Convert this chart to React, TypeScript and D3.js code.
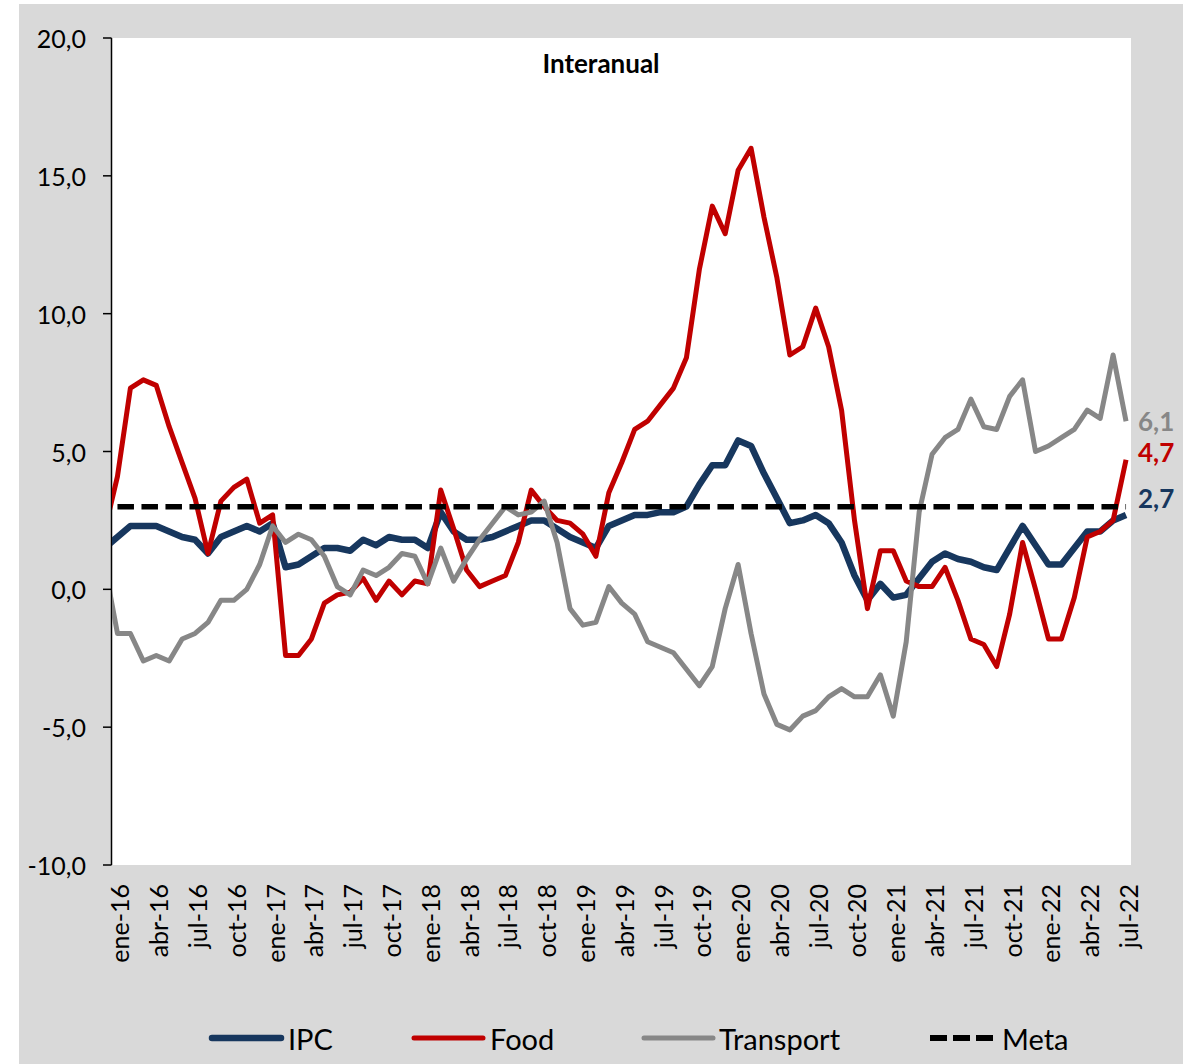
import React from "react";
import * as d3 from "d3";

// Months: first value is dic-15 (drawn but clipped at the axis), then ene-16 .. jul-22
const ipc = [1.5, 1.9, 2.3, 2.3, 2.3, 2.1, 1.9, 1.8, 1.3, 1.9, 2.1, 2.3, 2.1, 2.4, 0.8, 0.9, 1.2, 1.5, 1.5, 1.4, 1.8, 1.6, 1.9, 1.8, 1.8, 1.5, 2.8, 2.1, 1.8, 1.8, 1.9, 2.1, 2.3, 2.5, 2.5, 2.2, 1.9, 1.7, 1.5, 2.3, 2.5, 2.7, 2.7, 2.8, 2.8, 3.0, 3.8, 4.5, 4.5, 5.4, 5.2, 4.2, 3.3, 2.4, 2.5, 2.7, 2.4, 1.7, 0.5, -0.4, 0.2, -0.3, -0.2, 0.4, 1.0, 1.3, 1.1, 1.0, 0.8, 0.7, 1.5, 2.3, 1.6, 0.9, 0.9, 1.5, 2.1, 2.1, 2.5, 2.7];
const food = [2.1, 4.1, 7.3, 7.6, 7.4, 5.9, 4.6, 3.3, 1.3, 3.2, 3.7, 4.0, 2.4, 2.7, -2.4, -2.4, -1.8, -0.5, -0.2, -0.1, 0.4, -0.4, 0.3, -0.2, 0.3, 0.2, 3.6, 2.2, 0.7, 0.1, 0.3, 0.5, 1.7, 3.6, 3.0, 2.5, 2.4, 2.0, 1.2, 3.5, 4.6, 5.8, 6.1, 6.7, 7.3, 8.4, 11.6, 13.9, 12.9, 15.2, 16.0, 13.5, 11.3, 8.5, 8.8, 10.2, 8.8, 6.5, 2.5, -0.7, 1.4, 1.4, 0.3, 0.1, 0.1, 0.8, -0.4, -1.8, -2.0, -2.8, -0.9, 1.7, 0.0, -1.8, -1.8, -0.3, 1.9, 2.1, 2.5, 4.7];
const transport = [0.9, -1.6, -1.6, -2.6, -2.4, -2.6, -1.8, -1.6, -1.2, -0.4, -0.4, 0.0, 0.9, 2.3, 1.7, 2.0, 1.8, 1.2, 0.1, -0.2, 0.7, 0.5, 0.8, 1.3, 1.2, 0.2, 1.5, 0.3, 1.1, 1.8, 2.4, 3.0, 2.7, 2.8, 3.2, 1.7, -0.7, -1.3, -1.2, 0.1, -0.5, -0.9, -1.9, -2.1, -2.3, -2.9, -3.5, -2.8, -0.7, 0.9, -1.6, -3.8, -4.9, -5.1, -4.6, -4.4, -3.9, -3.6, -3.9, -3.9, -3.1, -4.6, -1.9, 2.8, 4.9, 5.5, 5.8, 6.9, 5.9, 5.8, 7.0, 7.6, 5.0, 5.2, 5.5, 5.8, 6.5, 6.2, 8.5, 6.1];
const metaValue = 3.0;

const tickLabels = ["ene-16", "abr-16", "jul-16", "oct-16", "ene-17", "abr-17", "jul-17", "oct-17", "ene-18", "abr-18", "jul-18", "oct-18", "ene-19", "abr-19", "jul-19", "oct-19", "ene-20", "abr-20", "jul-20", "oct-20", "ene-21", "abr-21", "jul-21", "oct-21", "ene-22", "abr-22", "jul-22"];
const yTicks = [-10, -5, 0, 5, 10, 15, 20];

const COLORS = { IPC: "#17375e", Food: "#c00000", Transport: "#878787", Meta: "#000000" };
const FONT = "Lato, 'Open Sans', sans-serif";

export default function App() {
  const W = 1191, H = 1064;
  const plot = { left: 111, right: 1131, top: 38, bottom: 865 };
  const nMonths = ipc.length - 1; // months from ene-16
  const x = d3.scaleLinear().domain([-0.5, nMonths - 0.5]).range([111, 1132.5]);
  const y = d3.scaleLinear().domain([-10, 20]).range([plot.bottom, plot.top]);
  const lineGen = d3.line<number>().x((_, i) => x(i - 1)).y((d) => y(d));
  const fmt = (v: number) => d3.format(".1f")(v).replace(".", ",").replace("\u2212", "-");

  const series = [
    { name: "IPC", data: ipc, width: 6.5 },
    { name: "Food", data: food, width: 5 },
    { name: "Transport", data: transport, width: 5 },
  ];

  const metaLine = d3.line<number>().x((d) => x(d)).y(() => y(metaValue))([0, nMonths - 1]);

  const legend = [
    { name: "IPC", x1: 212, x2: 281, tx: 288, w: 6.5, dash: undefined },
    { name: "Food", x1: 414, x2: 483, tx: 490, w: 5, dash: undefined },
    { name: "Transport", x1: 644, x2: 713, tx: 719, w: 5, dash: undefined },
    { name: "Meta", x1: 930, x2: 996, tx: 1002, w: 6, dash: "17 6" },
  ];

  const last = nMonths;
  const endLabels = [
    { name: "Transport", v: transport[last], dy: 0 },
    { name: "Food", v: food[last], dy: -8 },
    { name: "IPC", v: ipc[last], dy: -17 },
  ];

  return (
    <div style={{ position: "absolute", left: 0, top: 0 }}>
      <svg width={W} height={H} style={{ display: "block" }} fontFamily={FONT}>
        <defs>
          <clipPath id="plotClip">
            <rect x={plot.left + 1} y={0} width={plot.right - plot.left} height={H} />
          </clipPath>
        </defs>
        <rect x={0} y={0} width={W} height={H} fill="#ffffff" />
        <rect x={19} y={4} width={1164} height={H - 4} fill="#d9d9d9" />
        <rect x={plot.left} y={plot.top} width={plot.right - plot.left} height={plot.bottom - plot.top} fill="#ffffff" />

        {/* Y axis */}
        <line x1={plot.left + 0.5} x2={plot.left + 0.5} y1={plot.top} y2={plot.bottom} stroke="#000" strokeWidth={1.5} />
        {yTicks.map((t) => (
          <g key={t}>
            <line x1={103} x2={plot.left + 0.5} y1={y(t)} y2={y(t)} stroke="#000" strokeWidth={1.5} />
            <text x={86} y={y(t)} textAnchor="end" dominantBaseline="central" fontSize={25} fill="#000">
              {fmt(t)}
            </text>
          </g>
        ))}

        {/* X labels */}
        {tickLabels.map((lab, k) => (
          <text
            key={lab}
            transform={`translate(${x(k * 3) + 2},${884}) rotate(-90)`}
            textAnchor="end"
            dominantBaseline="central"
            fontSize={25}
            fill="#000"
          >
            {lab}
          </text>
        ))}

        {/* Title */}
        <text x={601} y={63} textAnchor="middle" dominantBaseline="central" fontSize={26} fontWeight={700} fill="#000">
          Interanual
        </text>

        {/* Series */}
        <g clipPath="url(#plotClip)">
          {series.map((s) => (
            <path
              key={s.name}
              d={lineGen(s.data) || ""}
              fill="none"
              stroke={(COLORS as any)[s.name]}
              strokeWidth={s.width}
              strokeLinejoin="round"
            />
          ))}
          <path d={metaLine || ""} fill="none" stroke={COLORS.Meta} strokeWidth={5.5} strokeDasharray="16.5 7.5" />
        </g>

        {/* End labels */}
        {endLabels.map((e) => (
          <text
            key={e.name}
            x={1138}
            y={y(e.v) + e.dy}
            dominantBaseline="central"
            fontSize={26}
            fontWeight={700}
            fill={(COLORS as any)[e.name]}
          >
            {fmt(e.v)}
          </text>
        ))}

        {/* Legend */}
        {legend.map((l) => (
          <g key={l.name}>
            <line
              x1={l.x1}
              x2={l.x2}
              y1={1038}
              y2={1038}
              stroke={(COLORS as any)[l.name]}
              strokeWidth={l.w}
              strokeLinecap={l.dash ? "butt" : "round"}
              strokeDasharray={l.dash}
            />
            <text x={l.tx} y={1038} dominantBaseline="central" fontSize={29} fill="#000">
              {l.name}
            </text>
          </g>
        ))}
      </svg>
    </div>
  );
}
